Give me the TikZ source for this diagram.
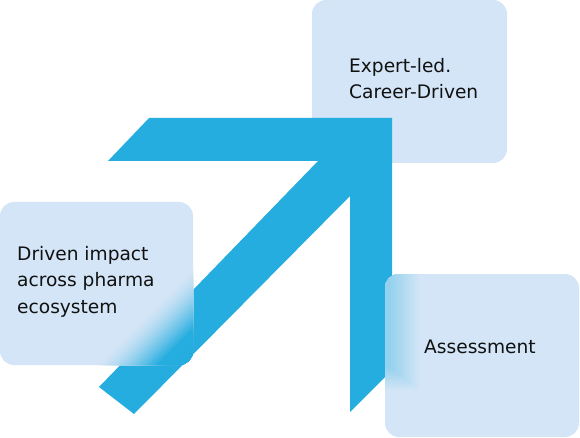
\documentclass[tikz,border=0pt]{standalone}
\usepackage{fontspec}
\setmainfont{DejaVu Sans}
\definecolor{arrowc}{HTML}{25ADE0}
\definecolor{boxc}{HTML}{D3E5F6}
\definecolor{txtc}{HTML}{111111}
\begin{document}
\begin{tikzpicture}[x=1pt,y=-1pt,
  box/.style={fill=boxc, draw=none, rounded corners=14pt, inner sep=0pt, outer sep=0pt, rectangle},
  txt/.style={text=txtc, font=\fontsize{18.6}{26.5}\selectfont, align=left, inner sep=0pt, anchor=base west}]
\useasboundingbox (0,0) rectangle (580,438);
% top box (under the arrow)
\node[box, minimum width=195pt, minimum height=163pt, anchor=north west] (b2) at (312,0) {};
% arrow
\fill[arrowc] (149,118) -- (392,118) -- (392,370) -- (350,412) -- (350,196)
  -- (134,414) -- (99,387) -- (318,161) -- (108,161) -- cycle;
% left box
\node[box, minimum width=193pt, minimum height=163pt, anchor=north west] (b1) at (0,202) {};
\begin{scope}
  \clip[rounded corners=14pt] (b1.north west) rectangle (b1.south east);
  \foreach \c in {462,464,...,540}{
    \pgfmathsetmacro{\p}{min(100,max(0,100*((\c-462)/60)^1.4))}
    \fill[arrowc!\p!boxc] (\c-600,600) -- (600,\c-600) -- (600,600) -- cycle;
  }
\end{scope}
% right box
\node[box, minimum width=194pt, minimum height=163pt, anchor=north west] (b3) at (385,274) {};
\begin{scope}
  \clip[rounded corners=14pt] (b3.north west) rectangle (b3.south east);
  \foreach \k in {0,...,12}{
    \pgfmathsetmacro{\p}{3*\k}
    \fill[arrowc!\p!boxc] (385,274) rectangle (385+36-2.5*\k,392-2*\k);
  }
\end{scope}
% texts
\node[txt] (t1) at (17,313) {Driven impact\\across pharma\\ecosystem};
\node[txt] (t2) at (349,99) {Expert-led.\\Career-Driven};
\node[txt] (t3) at (424,353) {Assessment};
\end{tikzpicture}
\end{document}
